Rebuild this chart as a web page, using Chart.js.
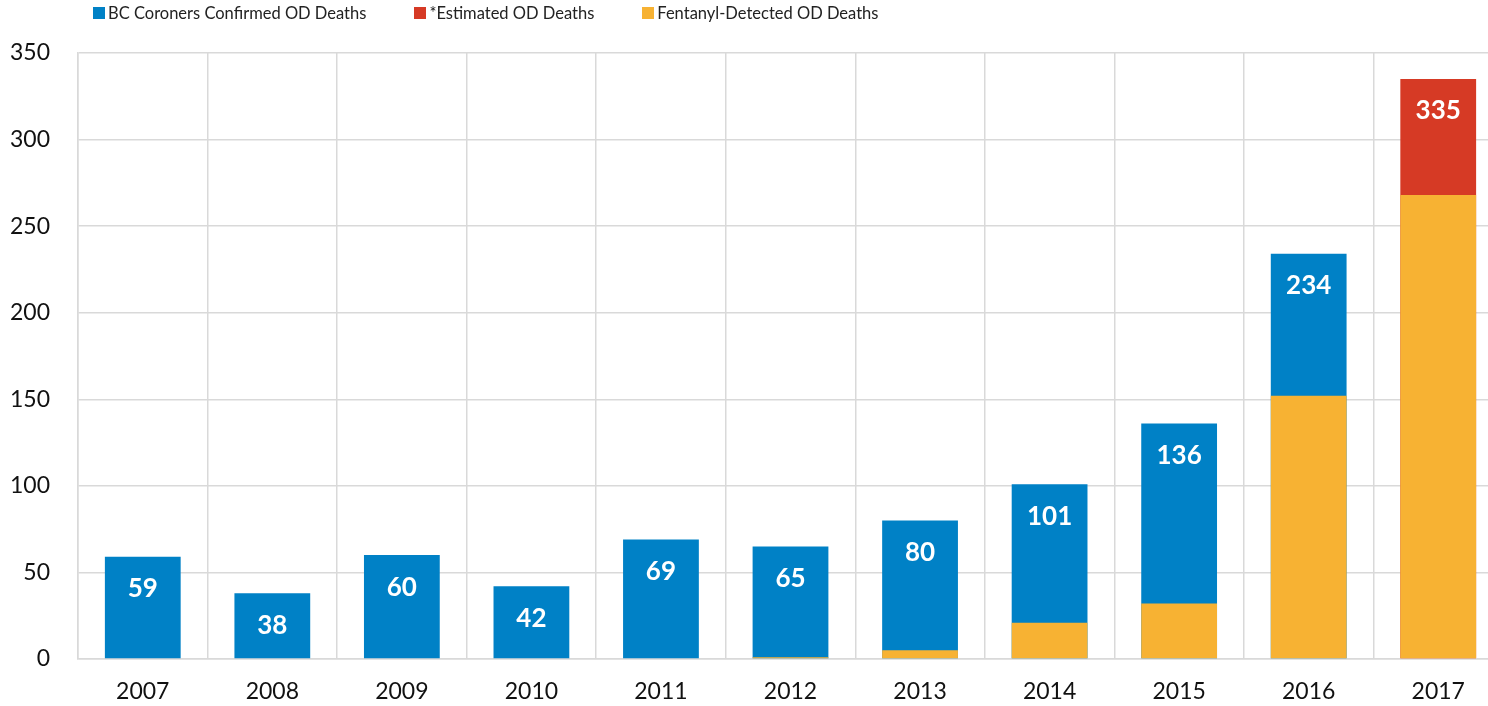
<!DOCTYPE html>
<html>
<head>
<meta charset="utf-8">
<script src="https://cdn.jsdelivr.net/npm/chart.js@4.4.1/dist/chart.umd.min.js"></script>
<style>
  html, body { margin: 0; padding: 0; background: #fff; overflow: hidden; }
  #wrap { position: absolute; left: 0; top: 0; width: 1503px; height: 706px; }
  #legend { position: absolute; left: 93px; top: 3px; font-family: "Liberation Sans Narrow", Lato, sans-serif; font-size: 16.5px; color: #222; display: flex; z-index: 2; }
  #legend .item { display: flex; align-items: center; margin-right: 48px; }
  #legend .box { width: 12px; height: 12px; margin-right: 3px; }
</style>
</head>
<body>
<div id="legend"></div>
<div id="wrap"><canvas id="grafico"></canvas></div>
<script>
// datos del grafico
const years = ['2007', '2008', '2009', '2010', '2011', '2012', '2013', '2014', '2015', '2016', '2017'];
const confirmedDeaths = [59, 38, 60, 42, 69, 65, 80, 101, 136, 234, null];
const estimatedDeaths = [null, null, null, null, null, null, null, null, null, null, 335];
const fentanylDeaths = [0, 0, 0, 0, 0, 1, 5, 21, 32, 152, 268];
const yTicks = [0, 50, 100, 150, 200, 250, 300, 350];

// colores
const azul = '#0081c6';
const rojo = '#d63a25';
const naranja = '#f7b233';
const rejilla = '#d9d9d9';

const series = [
  { label: 'BC Coroners Confirmed OD Deaths', data: confirmedDeaths, color: azul, order: 3 },
  { label: '*Estimated OD Deaths', data: estimatedDeaths, color: rojo, order: 2 },
  { label: 'Fentanyl-Detected OD Deaths', data: fentanylDeaths, color: naranja, order: 1 },
];

// leyenda
const legend = document.getElementById('legend');
series.forEach(s => {
  const item = document.createElement('div');
  item.className = 'item';
  item.innerHTML = `<span class="box" style="background:${s.color}"></span><span>${s.label}</span>`;
  legend.appendChild(item);
});

// etiquetas blancas dentro de las barras
const etiquetas = {
  id: 'etiquetas',
  afterDatasetsDraw(chart) {
    const ctx = chart.ctx;
    ctx.save();
    ctx.fillStyle = '#fff';
    ctx.font = 'bold 26px Lato, sans-serif';
    ctx.textAlign = 'center';
    ctx.textBaseline = 'middle';
    [0, 1].forEach(i => {
      const meta = chart.getDatasetMeta(i);
      meta.data.forEach((bar, j) => {
        const v = chart.data.datasets[i].data[j];
        if (v == null) return;
        ctx.fillText(String(v), bar.x, bar.y + 32);
      });
    });
    ctx.restore();
  }
};

const config = {
  type: 'bar',
  data: {
    labels: years,
    datasets: series.map(s => ({
      label: s.label,
      data: s.data,
      backgroundColor: s.color,
      borderWidth: 0,
      order: s.order,
      grouped: false,
      categoryPercentage: 1,
      barPercentage: 0.585,
    }))
  },
  options: {
    responsive: true,
    maintainAspectRatio: false,
    animation: false,
    layout: { padding: { top: 53, left: 0, right: 0, bottom: 0 } },
    plugins: {
      legend: { display: false },
      tooltip: { enabled: false }
    },
    scales: {
      x: {
        afterFit(axis) { axis.height = 47; },
        grid: { color: rejilla, lineWidth: 1.5, drawTicks: false, offset: true },
        border: { color: rejilla, width: 1.5 },
        ticks: { color: '#111', font: { family: 'Lato, sans-serif', size: 23 }, padding: 19 }
      },
      y: {
        min: 0,
        max: 350,
        afterBuildTicks(axis) { axis.ticks = yTicks.map(v => ({ value: v })); },
        afterFit(axis) { axis.width = 78; },
        grid: { color: rejilla, lineWidth: 1.5, drawTicks: false },
        border: { color: rejilla, width: 1.5 },
        ticks: { color: '#111', font: { family: 'Lato, sans-serif', size: 23 }, padding: 28 }
      }
    }
  },
  plugins: [etiquetas]
};

new Chart(document.getElementById('grafico'), config);
</script>
</body>
</html>
